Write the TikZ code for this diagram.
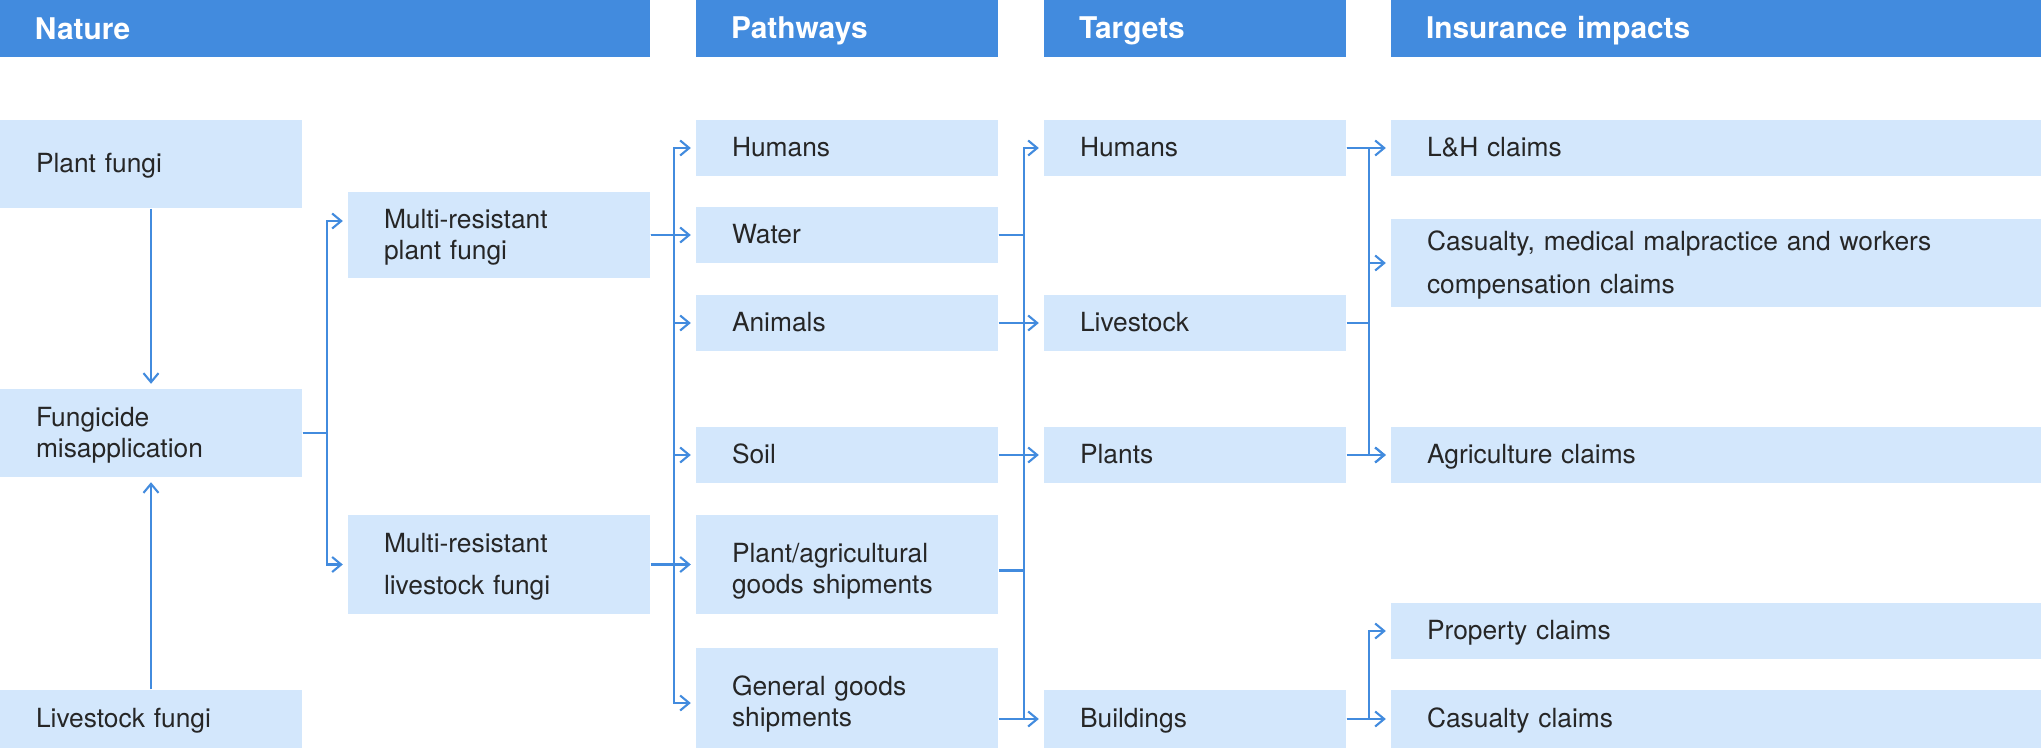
\documentclass[tikz,border=0pt]{standalone}
\usepackage{fontspec}
\setmainfont{TeX Gyre Heros}
\usetikzlibrary{arrows.meta}

\definecolor{hdrblue}{RGB}{66,139,222}
\definecolor{boxblue}{RGB}{211,231,252}
\definecolor{ink}{RGB}{38,38,38}

\begin{document}
\begin{tikzpicture}[
  hdr/.style={fill=hdrblue, text=white, font=\bfseries\fontsize{8.5pt}{10pt}\selectfont,
    inner xsep=0.35cm, inner ysep=0pt, minimum height=0.57cm, text width=2.32cm, align=left,
    execute at begin node={\rule[-1.5pt]{0pt}{9pt}}},
  box/.style={fill=boxblue, text=ink, font=\fontsize{7.5pt}{8.9pt}\selectfont,
    inner xsep=0.36cm, inner ysep=0pt, minimum height=0.56cm, text width=2.30cm, align=left,
    execute at begin node={\rule{0pt}{7pt}},
    execute at end node={\rule[-1.9pt]{0pt}{1.9pt}}},
  wide/.style={text width=5.78cm},
  link/.style={draw=hdrblue, line width=0.6pt},
  arr/.style={link, -{Straight Barb[length=0.09cm,width=0.15cm]}, shorten >=0.045cm}
]
  \useasboundingbox (0,0) rectangle (20.41,-7.48);

  % column heads
  \node[hdr, text width=5.80cm] (hnat) at (3.25,-0.285) {Nature};
  \node[hdr] (hpath) at (8.47,-0.285) {Pathways};
  \node[hdr] (htarg) at (11.95,-0.285) {Targets};
  \node[hdr, text width=5.80cm] (hins) at (17.16,-0.285) {Insurance impacts};

  % nature
  \node[box, minimum height=0.88cm] (pfungi) at (1.51,-1.64) {Plant fungi};
  \node[box, minimum height=0.88cm] (misapp) at (1.51,-4.33) {Fungicide\\misapplication};
  \node[box, minimum height=0.58cm] (lfungi) at (1.51,-7.19) {Livestock fungi};
  \node[box, minimum height=0.86cm] (mrplant) at (4.99,-2.35) {Multi-resistant\\plant fungi};
  \node[box, minimum height=0.99cm] (mrlive) at (4.99,-5.645) {Multi-resistant\\[3.2pt]livestock fungi};

  % pathways
  \node[box] (phum) at (8.47,-1.48) {Humans};
  \node[box] (pwater) at (8.47,-2.35) {Water};
  \node[box] (panim) at (8.47,-3.23) {Animals};
  \node[box] (psoil) at (8.47,-4.55) {Soil};
  \node[box, minimum height=0.99cm] (pagri) at (8.47,-5.645) {\rule{0pt}{9.6pt}Plant/agricultural\\goods shipments};
  \node[box, minimum height=1.00cm] (pgen) at (8.47,-6.98) {\rule{0pt}{9.4pt}General goods\\shipments};

  % targets
  \node[box] (thum) at (11.95,-1.48) {Humans};
  \node[box] (tlive) at (11.95,-3.23) {Livestock};
  \node[box] (tplant) at (11.95,-4.55) {Plants};
  \node[box, minimum height=0.58cm] (tbuild) at (11.95,-7.19) {Buildings};

  % insurance impacts
  \node[box, wide] (ilh) at (17.16,-1.48) {L\&H claims};
  \node[box, wide, minimum height=0.88cm] (icas) at (17.16,-2.63) {Casualty, medical malpractice and workers\\[3.2pt]compensation claims};
  \node[box, wide] (iagri) at (17.16,-4.55) {Agriculture claims};
  \node[box, wide] (iprop) at (17.16,-6.31) {Property claims};
  \node[box, wide, minimum height=0.58cm] (icasc) at (17.16,-7.19) {Casualty claims};

  % nature -> resistant fungi
  \draw[arr] (pfungi) -- (misapp);
  \draw[arr] (lfungi) -- (misapp);
  \draw[arr] (misapp.east) -- ++(0.24,0) |- ([yshift=0.14cm]mrplant.west);
  \draw[arr] (misapp.east) -- ++(0.24,0) |- (mrlive.west);

  % resistant fungi -> pathways
  \foreach \p/\dy in {phum/0,panim/0,psoil/0,pgen/-0.05}
    \draw[arr] (mrplant.east) -- ++(0.23,0) |- ([yshift=\dy cm]\p.west);
  \draw[arr] (mrplant) -- (pwater);
  \draw[arr] (mrlive) -- (pagri);

  % pathways -> targets
  \draw[arr] (pwater.east) -- ++(0.25,0) |- (thum.west);
  \draw[arr] (pwater.east) -- ++(0.25,0) |- (tbuild.west);
  \draw[arr] (panim) -- (tlive);
  \draw[arr] (psoil) -- (tplant);
  \draw[link] ([yshift=-0.06cm]pagri.east) -- ++(0.25,0);
  \draw[link] ([yshift=-0.21cm]pgen.east) -- ++(0.25,0);

  % targets -> insurance
  \foreach \i in {ilh,icas,iagri}
    \draw[arr] (thum.east) -- ++(0.22,0) |- (\i.west);
  \draw[link] (tlive.east) -- ++(0.22,0);
  \draw[arr] (tplant) -- (iagri);
  \draw[arr] (tbuild.east) -- ++(0.22,0) |- (iprop.west);
  \draw[arr] (tbuild) -- (icasc);
\end{tikzpicture}
\end{document}
